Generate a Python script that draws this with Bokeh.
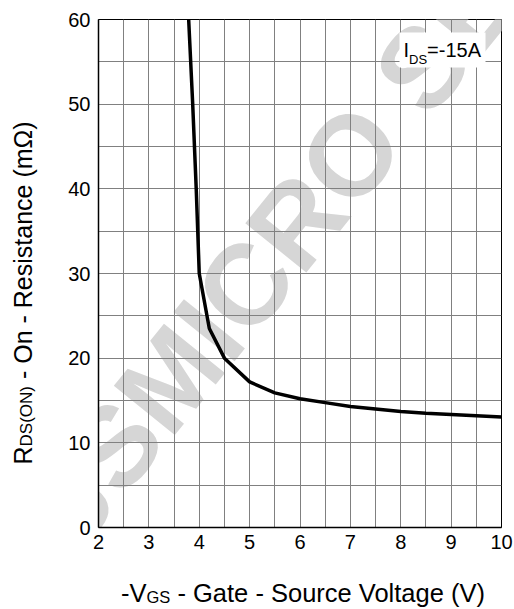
import math
from bokeh.plotting import figure
from bokeh.models import Range1d, FixedTicker, Label, BoxAnnotation, Spacer
from bokeh.layouts import row, column
from bokeh.embed import file_html
from bokeh.resources import INLINE

# ---- data ----
vgs = [3.79, 3.87, 3.94, 4.0, 4.2, 4.5, 5.0, 5.5, 6.0, 6.5, 7.0, 7.5, 8.0, 8.5, 9.0, 9.5, 10.0]
rds = [60.0, 50.0, 40.0, 30.0, 23.5, 20.0, 17.2, 15.9, 15.2, 14.75, 14.3, 14.0, 13.7, 13.5, 13.35, 13.2, 13.05]
x_ticks = [2, 3, 4, 5, 6, 7, 8, 9, 10]
x_grid = [2 + 0.5 * i for i in range(17)]
y_ticks = [0, 10, 20, 30, 40, 50, 60]
y_grid = [5 * i for i in range(13)]

FONT = "Liberation Sans"
W, H = 514, 609
LW = 60          # width of the y-label strip
MH = 557         # height of the main figure
FL, FR, FT, FB = 98, 501, 19, 527  # frame edges (global pixels)
BK = 0.4         # offset of rendered baseline below the label anchor (x font size)

def X(px):
    return 2 + (px - FL) / (FR - FL) * 8

def Y(py):
    return 60 - (py - FT) / (FB - FT) * 60

# Arial / Liberation Sans advance widths (per 1000 em)
AW = {'R': 722, 'D': 722, 'S': 667, '(': 333, ')': 333, 'O': 778, 'N': 722, ' ': 278,
      '-': 333, 'n': 556, 'e': 556, 's': 500, 'i': 222, 't': 278, 'a': 556, 'c': 500,
      'm': 833, 'Ω': 768, 'V': 667, 'G': 778, 'o': 556, 'u': 556, 'r': 333, 'l': 222,
      'g': 556, 'I': 278, '=': 584, '1': 556, '5': 556, 'A': 667}

def tw(s, size):
    return sum(AW.get(c, 556) for c in s) / 1000 * size

def blank(w, h, bl, br, bt, bb):
    f = figure(width=w, height=h, output_backend="svg", toolbar_location=None,
               x_range=Range1d(0, w - bl - br), y_range=Range1d(0, h - bt - bb), title=None,
               x_axis_location=None, y_axis_location=None, min_border=0,
               min_border_left=bl, min_border_right=br, min_border_top=bt, min_border_bottom=bb)
    f.outline_line_color = None
    f.background_fill_color = "white"
    f.border_fill_color = "white"
    f.xgrid.visible = False
    f.ygrid.visible = False
    return f

p = figure(width=W - LW, height=MH, output_backend="svg", toolbar_location=None,
           x_range=Range1d(2, 10), y_range=Range1d(0, 60),
           min_border_left=FL - LW, min_border_right=W - FR, min_border_top=FT,
           min_border_bottom=MH - FB)
p.background_fill_color = "white"
p.border_fill_color = "white"
p.outline_line_color = "black"
p.outline_line_width = 1
p.outline_line_alpha = 1

# watermark
wm = Label(x=X(51), y=Y(524), text="JSMICRO SEMI", angle=math.radians(51),
           text_font=FONT, text_font_size="114px", text_font_style="bold",
           text_color="#d6d6d6", text_align="left", text_baseline="alphabetic",
           level="image")
p.add_layout(wm)

p.xaxis.ticker = FixedTicker(ticks=x_ticks)
p.yaxis.ticker = FixedTicker(ticks=y_ticks)
p.xgrid.ticker = FixedTicker(ticks=x_grid)
p.ygrid.ticker = FixedTicker(ticks=y_grid)
p.grid.grid_line_color = "#808080"
p.grid.grid_line_width = 1
p.grid.grid_line_alpha = 1

p.axis.major_tick_line_color = None
p.axis.minor_tick_line_color = None
p.axis.major_tick_out = 0
p.axis.axis_line_color = "black"
p.axis.axis_line_width = 1.5
p.axis.major_label_text_font = FONT
p.axis.major_label_text_font_size = "20px"
p.axis.major_label_text_color = "black"
p.yaxis.major_label_standoff = 8
p.xaxis.major_label_standoff = 7

p.line(vgs, rds, line_color="black", line_width=3.5)

# annotation I_DS=-15A with white box
p.add_layout(BoxAnnotation(left=X(399), right=X(485), top=Y(32), bottom=Y(67),
                           fill_color="white", fill_alpha=1, line_color=None))
cur = 403
for s, sz, base in [("I", 20, 57), ("DS", 13, 64.5), ("=-15A", 20, 57)]:
    p.add_layout(Label(x=X(cur), y=Y(base - BK * sz), text=s, text_font=FONT,
                       text_font_size=f"{sz}px", text_color="black",
                       text_align="left", text_baseline="alphabetic"))
    cur += tw(s, sz)

def pieces_with_spaces(parts):
    # SVG drops leading spaces, so advance for them explicitly
    out = []
    for s, sz in parts:
        lead = len(s) - len(s.lstrip(" "))
        out.append((s.lstrip(" "), sz, tw(" " * lead, sz), tw(s.lstrip(" "), sz)))
    return out

# y axis label strip: R_DS(ON) - On - Resistance (mΩ)   (frame spans FT..FB)
ylab = blank(LW, MH, 0, 0, FT, MH - FB)
big_y, small_y = 25, 17
bx = 32.5
cur = 464
for s, sz, pre, adv in pieces_with_spaces([("R", big_y), ("DS(ON)", small_y),
                                            (" - On - Resistance (mΩ)", big_y)]):
    cur -= pre
    ylab.add_layout(Label(x=bx - BK * sz, y=FB - cur, text=s, angle=math.pi / 2,
                          text_font=FONT, text_font_size=f"{sz}px", text_color="black",
                          text_align="left", text_baseline="alphabetic"))
    cur -= adv

# x axis label strip: -V_GS - Gate - Source Voltage (V)   (frame spans FL..FR)
XH = H - MH
xlab = blank(W - LW, XH, FL - LW, W - FR, 0, 0)
big_x, small_x = 25.5, 16.5
by = 603
cur = 120.5
for s, sz, pre, adv in pieces_with_spaces([("-V", big_x), ("GS", small_x),
                                            (" - Gate - Source Voltage (V)", big_x)]):
    cur += pre
    xlab.add_layout(Label(x=cur - FL, y=H - (by - BK * sz), text=s, text_font=FONT,
                          text_font_size=f"{sz}px", text_color="black",
                          text_align="left", text_baseline="alphabetic"))
    cur += adv

layout = column(row(ylab, p, spacing=0), row(Spacer(width=LW, height=XH), xlab, spacing=0),
                spacing=0)

open("out.html", "w").write(file_html(layout, INLINE))
